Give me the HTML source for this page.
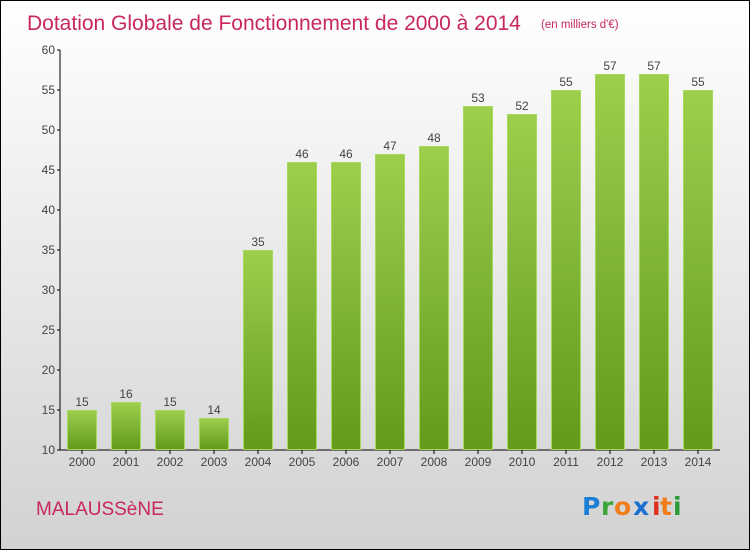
<!DOCTYPE html>
<html><head><meta charset="utf-8"><style>
html,body{margin:0;padding:0}
body{width:750px;height:550px;overflow:hidden;font-family:"Liberation Sans",sans-serif}
#wrap{position:absolute;left:0;top:0;width:748px;height:548px;border:1px solid #000;background:linear-gradient(#ffffff,#d2d2d2)}
</style></head><body>
<div id="wrap">
<svg width="750" height="550" style="position:absolute;left:-1px;top:-1px">
<defs><linearGradient id="bg" x1="0" y1="0" x2="0" y2="1"><stop offset="0" stop-color="#9ccf4c"/><stop offset="1" stop-color="#64991a"/></linearGradient></defs>
<text x="27" y="30" font-size="21" fill="#c8285a">Dotation Globale de Fonctionnement de 2000 à 2014</text>
<text x="541" y="28" font-size="11.5" fill="#c8285a">(en milliers d'€)</text>
<g id="plot"></g>
<text x="36" y="515" font-size="19" fill="#c8285a">MALAUSSèNE</text>
<g font-size="25" font-weight="bold" font-family="'DejaVu Sans',sans-serif">
<text x="582" y="515" fill="#1a7fd4">P</text><text x="601" y="515" fill="#3aa63a">r</text><text x="614" y="515" fill="#f07d1a">o</text><text x="633" y="515" fill="#1a6fd0">x</text><text x="652" y="515" fill="#e03020">i</text><text x="660" y="515" fill="#f07d1a">t</text><text x="673" y="515" fill="#2a9a3a">i</text>
</g>
</svg>
</div>
<script>
const categories=["2000","2001","2002","2003","2004","2005","2006","2007","2008","2009","2010","2011","2012","2013","2014"];
const values=[15,16,15,14,35,46,46,47,48,53,52,55,57,57,55];
const yTicks=[10,15,20,25,30,35,40,45,50,55,60];
const NS="http://www.w3.org/2000/svg";
const g=document.getElementById("plot");
const y=v=>450-(v-10)*8;
const x=i=>67+i*44;
function mk(t,a){const e=document.createElementNS(NS,t);for(const k in a)e.setAttribute(k,a[k]);g.appendChild(e);return e;}
let ax=mk("line",{x1:60,y1:50,x2:60,y2:450,stroke:"#000"});


let bx=mk("line",{x1:60,y1:450,x2:720,y2:450,stroke:"#000"});


yTicks.forEach(v=>{
 let l=mk("line",{x1:57,y1:y(v),x2:60,y2:y(v),stroke:"#000"});
 
 
 let t=mk("text",{x:55,y:y(v)+4,"font-size":12,fill:"#444","text-anchor":"end"});t.textContent=v;
 
 
});
categories.forEach((c,i)=>{
 let r=mk("rect",{x:x(i)+0.5,y:y(values[i])+0.5,width:29,height:450-y(values[i])-1,fill:"url(#bg)",stroke:"#a6d95a","stroke-width":1});
 
 
 let v=mk("text",{x:x(i)+15,y:y(values[i])-4,"font-size":12,fill:"#444","text-anchor":"middle"});v.textContent=values[i];
 
 
 let tk=mk("line",{x1:x(i)+15,y1:450,x2:x(i)+15,y2:454,stroke:"#000"});
 
 
 let t=mk("text",{x:x(i)+15,y:466,"font-size":12,fill:"#444","text-anchor":"middle"});t.textContent=c;
 
 
});
</script>
</body></html>
